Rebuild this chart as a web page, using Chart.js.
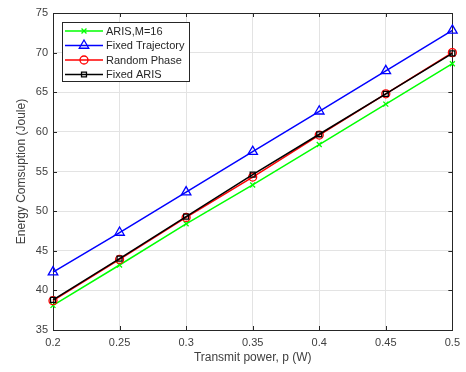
<!DOCTYPE html>
<html>
<head>
<meta charset="UTF-8">
<script src="https://cdn.jsdelivr.net/npm/chart.js@4"></script>
<style>
  body { margin: 0; background: #fff; }
  canvas { display: block; }
</style>
</head>
<body>
<canvas id="myChart" width="466" height="372"></canvas>
<script>
// data
var powers = [0.2, 0.25, 0.3, 0.35, 0.4, 0.45, 0.5];
var arisM16 = [38.1, 43.2, 48.4, 53.3, 58.4, 63.5, 68.6];
var fixedTrajectory = [42.3, 47.3, 52.4, 57.5, 62.6, 67.7, 72.8];
var randomPhase = [38.7, 43.9, 49.2, 54.3, 59.6, 64.8, 70.0];
var fixedAris = [38.8, 44.0, 49.3, 54.6, 59.7, 64.8, 69.9];
var seriesNames = ['ARIS,M=16', 'Fixed Trajectory', 'Random Phase', 'Fixed ARIS'];
var xTicks = [0.2, 0.25, 0.3, 0.35, 0.4, 0.45, 0.5];
var yTicks = [35, 40, 45, 50, 55, 60, 65, 70, 75];

var font = '"Liberation Sans", Arial, Helvetica, sans-serif';
var axisColor = '#262626';
var textColor = '#404040';

function points(ys) {
    return powers.map(function (p, i) { return { x: p, y: ys[i] }; });
}

function makeSet(label, ys, color, style, radius, order) {
    return {
        label: label,
        data: points(ys),
        borderColor: color,
        backgroundColor: color,
        borderWidth: 1.5,
        pointStyle: style,
        pointRadius: radius,
        pointBorderWidth: 1.3,
        pointBorderColor: color,
        pointBackgroundColor: 'rgba(0,0,0,0)',
        tension: 0,
        clip: false,
        order: order
    };
}

var datasets = [
    makeSet(seriesNames[0], arisM16, '#00ff00', 'crossRot', 3.5, 4),
    makeSet(seriesNames[1], fixedTrajectory, '#0000ff', 'triangle', 5.5, 3),
    makeSet(seriesNames[2], randomPhase, '#ff0000', 'circle', 4, 2),
    makeSet(seriesNames[3], fixedAris, '#000000', 'rect', 3.5, 1)
];

function drawMarker(ctx, ds, x, y) {
    ctx.save();
    ctx.strokeStyle = ds.borderColor;
    ctx.fillStyle = 'rgba(0,0,0,0)';
    ctx.lineWidth = ds.pointBorderWidth;
    Chart.helpers.drawPoint(ctx, {
        pointStyle: ds.pointStyle,
        radius: ds.pointRadius,
        borderWidth: ds.pointBorderWidth,
        rotation: 0
    }, x, y);
    ctx.restore();
}

// MATLAB-like box, inward ticks, axis titles and legend
var matlabLook = {
    id: 'matlabLook',
    beforeDatasetsDraw: function (chart) {
        var ctx = chart.ctx;
        var a = chart.chartArea;
        var xs = chart.scales.x, ys = chart.scales.y;
        ctx.save();
        ctx.strokeStyle = axisColor;
        ctx.lineWidth = 1;
        ctx.strokeRect(Math.round(a.left) + 0.5, Math.round(a.top) + 0.5,
            Math.round(a.right - a.left), Math.round(a.bottom - a.top));

        ctx.beginPath();
        xTicks.forEach(function (t) {
            var px = Math.round(xs.getPixelForValue(t)) + 0.5;
            ctx.moveTo(px, a.bottom); ctx.lineTo(px, a.bottom - 4);
            ctx.moveTo(px, a.top); ctx.lineTo(px, a.top + 4);
        });
        yTicks.forEach(function (t) {
            var py = Math.round(ys.getPixelForValue(t)) + 0.5;
            ctx.moveTo(a.left, py); ctx.lineTo(a.left + 4, py);
            ctx.moveTo(a.right, py); ctx.lineTo(a.right - 4, py);
        });
        ctx.stroke();

        // axis titles
        ctx.fillStyle = textColor;
        ctx.font = '12px ' + font;
        ctx.textAlign = 'center';
        ctx.textBaseline = 'middle';
        ctx.fillText('Transmit power, p (W)', (a.left + a.right) / 2, 358);
        ctx.save();
        ctx.translate(22, (a.top + a.bottom) / 2);
        ctx.rotate(-Math.PI / 2);
        ctx.fillText('Energy Comsuption (Joule)', 0, 0);
        ctx.restore();
        ctx.restore();
    },
    afterDatasetsDraw: function (chart) {
        var ctx = chart.ctx;
        ctx.save();
        // legend box
        var bx = 62.5, by = 22.5, bw = 127, bh = 59;
        ctx.fillStyle = '#ffffff';
        ctx.fillRect(bx, by, bw, bh);
        ctx.strokeStyle = axisColor;
        ctx.lineWidth = 1;
        ctx.strokeRect(bx, by, bw, bh);
        ctx.font = '11px ' + font;
        ctx.textAlign = 'left';
        ctx.textBaseline = 'middle';
        chart.data.datasets.forEach(function (ds, i) {
            var y = 31 + i * 14.5;
            ctx.strokeStyle = ds.borderColor;
            ctx.lineWidth = 1.5;
            ctx.beginPath();
            ctx.moveTo(65, y); ctx.lineTo(103, y);
            ctx.stroke();
            drawMarker(ctx, ds, 84, y);
            ctx.fillStyle = axisColor;
            ctx.fillText(ds.label, 106, y + 0.5);
        });
        ctx.restore();
    }
};

var ctx = document.getElementById('myChart').getContext('2d');
var myChart = new Chart(ctx, {
    type: 'line',
    data: { datasets: datasets },
    options: {
        responsive: false,
        animation: false,
        layout: { padding: { left: 0, top: 13, right: 12, bottom: 0 } },
        plugins: { legend: { display: false }, tooltip: { enabled: false } },
        scales: {
            x: {
                type: 'linear',
                min: 0.2,
                max: 0.5,
                afterFit: function (s) { s.height = 42; },
                afterBuildTicks: function (s) { s.ticks = xTicks.map(function (v) { return { value: v }; }); },
                ticks: {
                    color: textColor,
                    font: { family: font, size: 11 },
                    padding: 6,
                    maxRotation: 0,
                    callback: function (v) { return String(+v.toFixed(2)); }
                },
                grid: { color: '#e3e3e3', drawTicks: false, lineWidth: 1 },
                border: { display: false }
            },
            y: {
                min: 35,
                max: 75,
                afterFit: function (s) { s.width = 53; },
                afterBuildTicks: function (s) { s.ticks = yTicks.map(function (v) { return { value: v }; }); },
                ticks: {
                    color: textColor,
                    font: { family: font, size: 11 },
                    padding: 5
                },
                grid: { color: '#e3e3e3', drawTicks: false, lineWidth: 1 },
                border: { display: false }
            }
        }
    },
    plugins: [matlabLook]
});
</script>
</body>
</html>
